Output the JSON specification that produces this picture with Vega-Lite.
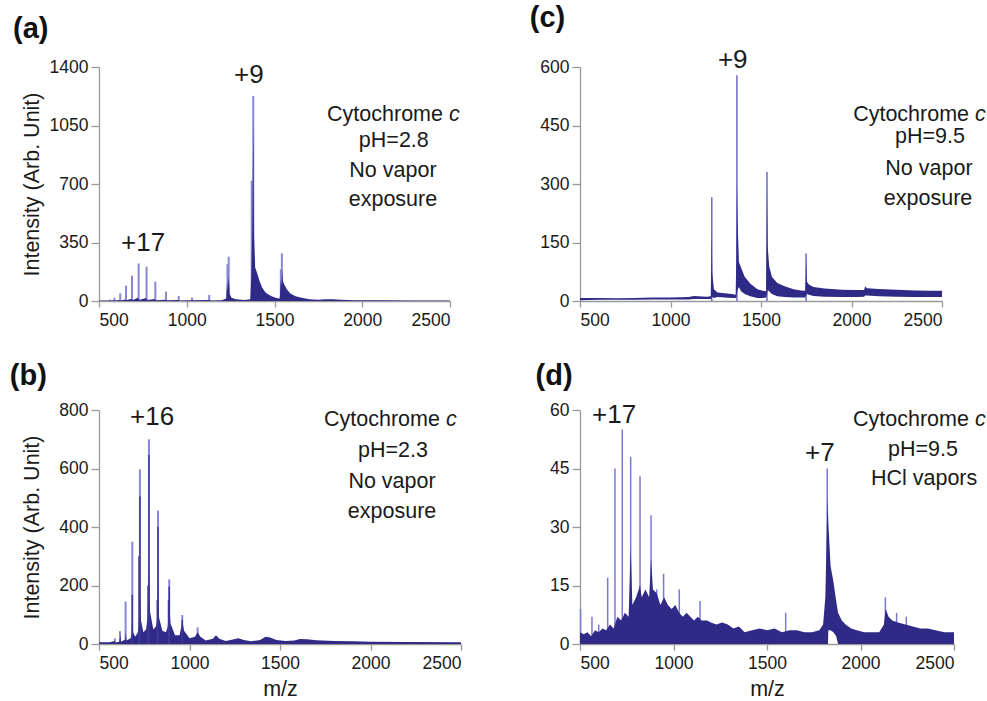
{
  "$schema": "https://vega.github.io/schema/vega-lite/v6.json",
  "background": "white",
  "padding": {"left": 9, "top": 3, "right": 0, "bottom": 0},
  "bounds": "flush",
  "columns": 2,
  "spacing": {"row": 109, "column": 119},
  "config": {
    "font": "Liberation Sans",
    "view": {"stroke": null},
    "axis": {"domainColor": "#9a9a9a", "tickColor": "#9a9a9a", "domainWidth": 1.3, "tickWidth": 1.3, "labelFontSize": 17.5, "labelColor": "#1a1a1a", "titleFontSize": 21.5, "titleFontWeight": "normal", "titleColor": "#1a1a1a", "grid": false, "labelFont": "Liberation Sans", "titleFont": "Liberation Sans", "format": "d"},
    "axisX": {"tickSize": 6, "labelPadding": 4, "titlePadding": 7},
    "axisY": {"tickSize": 8, "labelPadding": 3, "titlePadding": 6},
    "title": {"font": "Liberation Sans", "fontSize": 29, "fontWeight": "bold", "color": "#111111", "anchor": "start", "frame": "bounds"},
    "text": {"font": "Liberation Sans", "fontSize": 21.5, "color": "#1a1a1a"}
  },
  "datasets": {
    "aSpk": [{"mz":563,"i":8},{"mz":588,"i":20},{"mz":621,"i":46},{"mz":654,"i":92},{"mz":688,"i":152},{"mz":726,"i":225},{"mz":771,"i":205},{"mz":821,"i":116},{"mz":882,"i":56},{"mz":954,"i":30},{"mz":1030,"i":20},{"mz":1128,"i":36},{"mz":1232,"i":220},{"mz":1239,"i":265},{"mz":1370,"i":720},{"mz":1379,"i":1227},{"mz":1536,"i":190},{"mz":1542,"i":285}],
    "aEnv": [{"mz":500,"i":3},{"mz":560,"i":3},{"mz":585,"i":5},{"mz":590,"i":3},{"mz":618,"i":6},{"mz":623,"i":3},{"mz":650,"i":9},{"mz":656,"i":4},{"mz":685,"i":14},{"mz":690,"i":5},{"mz":722,"i":20},{"mz":729,"i":6},{"mz":768,"i":18},{"mz":774,"i":6},{"mz":818,"i":12},{"mz":824,"i":5},{"mz":878,"i":8},{"mz":886,"i":4},{"mz":950,"i":6},{"mz":958,"i":3},{"mz":1025,"i":4},{"mz":1128,"i":6},{"mz":1140,"i":3},{"mz":1200,"i":4},{"mz":1225,"i":15},{"mz":1230,"i":120},{"mz":1234,"i":60},{"mz":1239,"i":150},{"mz":1245,"i":40},{"mz":1255,"i":20},{"mz":1280,"i":10},{"mz":1330,"i":6},{"mz":1362,"i":10},{"mz":1368,"i":150},{"mz":1373,"i":400},{"mz":1379,"i":1063},{"mz":1383,"i":400},{"mz":1390,"i":200},{"mz":1400,"i":170},{"mz":1415,"i":120},{"mz":1430,"i":80},{"mz":1450,"i":50},{"mz":1480,"i":30},{"mz":1510,"i":18},{"mz":1530,"i":15},{"mz":1536,"i":130},{"mz":1540,"i":90},{"mz":1543,"i":190},{"mz":1548,"i":120},{"mz":1555,"i":100},{"mz":1570,"i":70},{"mz":1590,"i":45},{"mz":1620,"i":28},{"mz":1660,"i":18},{"mz":1700,"i":10},{"mz":1750,"i":8},{"mz":1790,"i":11},{"mz":1830,"i":10},{"mz":1880,"i":7},{"mz":1950,"i":5},{"mz":2100,"i":4},{"mz":2300,"i":3},{"mz":2500,"i":3}],
    "aTxt": [{"k":"big","t":"+9","mz":1354,"i":1352},{"k":"big","t":"+17","mz":751,"i":347},{"k":"cyto","t":"Cytochrome","mz":2477,"i":1113},{"k":"ital","t":"c","mz":2477,"i":1113},{"k":"cond","t":"pH=2.8","mz":2180,"i":957},{"k":"cond","t":"No vapor","mz":2175,"i":778},{"k":"cond","t":"exposure","mz":2175,"i":604}],
    "cSpk": [{"mz":1228,"i":266},{"mz":1367,"i":579},{"mz":1533,"i":331},{"mz":1749,"i":122}],
    "cEnv": [{"mz":500,"i":8,"lo":2},{"mz":600,"i":8,"lo":3},{"mz":700,"i":7,"lo":3},{"mz":800,"i":8,"lo":3},{"mz":900,"i":9,"lo":4},{"mz":1000,"i":9,"lo":4},{"mz":1100,"i":10,"lo":4},{"mz":1130,"i":13,"lo":5},{"mz":1200,"i":11,"lo":5},{"mz":1222,"i":12,"lo":5},{"mz":1226,"i":100,"lo":8},{"mz":1228,"i":170,"lo":10},{"mz":1231,"i":70,"lo":10},{"mz":1240,"i":30,"lo":8},{"mz":1260,"i":22,"lo":10},{"mz":1300,"i":20,"lo":9},{"mz":1340,"i":18,"lo":8},{"mz":1360,"i":16,"lo":8},{"mz":1364,"i":120,"lo":10},{"mz":1367,"i":302,"lo":20},{"mz":1371,"i":200,"lo":30},{"mz":1378,"i":100,"lo":35},{"mz":1390,"i":85,"lo":25},{"mz":1410,"i":62,"lo":18},{"mz":1440,"i":45,"lo":12},{"mz":1480,"i":30,"lo":8},{"mz":1510,"i":26,"lo":8},{"mz":1528,"i":25,"lo":9},{"mz":1531,"i":150,"lo":12},{"mz":1533,"i":289,"lo":20},{"mz":1537,"i":140,"lo":28},{"mz":1545,"i":90,"lo":25},{"mz":1560,"i":62,"lo":18},{"mz":1590,"i":46,"lo":12},{"mz":1630,"i":38,"lo":10},{"mz":1680,"i":30,"lo":9},{"mz":1720,"i":27,"lo":9},{"mz":1744,"i":26,"lo":9},{"mz":1747,"i":60,"lo":12},{"mz":1749,"i":110,"lo":14},{"mz":1753,"i":50,"lo":18},{"mz":1765,"i":42,"lo":16},{"mz":1790,"i":36,"lo":13},{"mz":1850,"i":32,"lo":11},{"mz":1950,"i":29,"lo":10},{"mz":2030,"i":28,"lo":10},{"mz":2070,"i":28,"lo":11},{"mz":2075,"i":38,"lo":14},{"mz":2085,"i":33,"lo":14},{"mz":2150,"i":31,"lo":12},{"mz":2250,"i":29,"lo":11},{"mz":2350,"i":27,"lo":10},{"mz":2450,"i":26,"lo":10},{"mz":2500,"i":26,"lo":10}],
    "cTxt": [{"k":"big","t":"+9","mz":1344,"i":618},{"k":"cyto","t":"Cytochrome","mz":2666,"i":477},{"k":"ital","t":"c","mz":2666,"i":477},{"k":"cond","t":"pH=9.5","mz":2434,"i":420},{"k":"cond","t":"No vapor","mz":2428,"i":338},{"k":"cond","t":"exposure","mz":2423,"i":262}],
    "bSpk": [{"mz":588,"i":19},{"mz":616,"i":44},{"mz":647,"i":145},{"mz":684,"i":350},{"mz":726,"i":597},{"mz":776,"i":700},{"mz":826,"i":456},{"mz":888,"i":221},{"mz":960,"i":99},{"mz":1045,"i":57}],
    "bCore": [{"mz":684,"i":168},{"mz":721,"i":300},{"mz":726,"i":504},{"mz":771,"i":200},{"mz":776,"i":646},{"mz":822,"i":150},{"mz":826,"i":401},{"mz":884,"i":150},{"mz":888,"i":196},{"mz":960,"i":82}],
    "bEnv": [{"mz":500,"i":6},{"mz":560,"i":6},{"mz":585,"i":10},{"mz":590,"i":5},{"mz":612,"i":8},{"mz":618,"i":30},{"mz":622,"i":8},{"mz":645,"i":15},{"mz":648,"i":40},{"mz":652,"i":12},{"mz":675,"i":20},{"mz":680,"i":35},{"mz":684,"i":120},{"mz":688,"i":40},{"mz":700,"i":25},{"mz":715,"i":40},{"mz":720,"i":70},{"mz":726,"i":200},{"mz":732,"i":80},{"mz":745,"i":40},{"mz":760,"i":50},{"mz":768,"i":90},{"mz":776,"i":260},{"mz":782,"i":110},{"mz":800,"i":50},{"mz":815,"i":60},{"mz":820,"i":80},{"mz":826,"i":200},{"mz":832,"i":90},{"mz":850,"i":45},{"mz":870,"i":40},{"mz":880,"i":60},{"mz":888,"i":150},{"mz":895,"i":70},{"mz":920,"i":30},{"mz":945,"i":30},{"mz":955,"i":60},{"mz":960,"i":82},{"mz":970,"i":45},{"mz":1000,"i":20},{"mz":1030,"i":25},{"mz":1045,"i":40},{"mz":1060,"i":25},{"mz":1090,"i":12},{"mz":1130,"i":18},{"mz":1146,"i":30},{"mz":1165,"i":18},{"mz":1200,"i":10},{"mz":1240,"i":15},{"mz":1270,"i":20},{"mz":1300,"i":14},{"mz":1340,"i":9},{"mz":1390,"i":14},{"mz":1420,"i":25},{"mz":1445,"i":22},{"mz":1480,"i":14},{"mz":1530,"i":10},{"mz":1580,"i":12},{"mz":1610,"i":17},{"mz":1650,"i":16},{"mz":1700,"i":13},{"mz":1800,"i":10},{"mz":1900,"i":9},{"mz":2000,"i":8},{"mz":2200,"i":7},{"mz":2500,"i":6}],
    "bTxt": [{"k":"big","t":"+16","mz":793,"i":776},{"k":"cyto","t":"Cytochrome","mz":2400,"i":766},{"k":"ital","t":"c","mz":2400,"i":766},{"k":"cond","t":"pH=2.3","mz":2124,"i":660},{"k":"cond","t":"No vapor","mz":2119,"i":554},{"k":"cond","t":"exposure","mz":2119,"i":451}],
    "dSpk": [{"mz":503,"i":9},{"mz":564,"i":7},{"mz":600,"i":5},{"mz":648,"i":17},{"mz":687,"i":45},{"mz":726,"i":55},{"mz":771,"i":48},{"mz":821,"i":43},{"mz":880,"i":33},{"mz":910,"i":14},{"mz":947,"i":18},{"mz":1031,"i":14},{"mz":1142,"i":11},{"mz":1600,"i":8},{"mz":1822,"i":45},{"mz":2133,"i":12},{"mz":2193,"i":8},{"mz":2245,"i":7}],
    "dEnv": [{"mz":500,"i":3,"lo":0},{"mz":520,"i":2.5,"lo":0},{"mz":540,"i":3,"lo":0},{"mz":560,"i":2,"lo":0},{"mz":580,"i":3.5,"lo":0},{"mz":600,"i":3,"lo":0},{"mz":620,"i":4,"lo":0},{"mz":640,"i":3.5,"lo":0},{"mz":660,"i":5,"lo":0},{"mz":680,"i":4,"lo":0},{"mz":700,"i":7,"lo":0},{"mz":720,"i":6,"lo":0},{"mz":740,"i":8,"lo":0},{"mz":760,"i":7,"lo":0},{"mz":771,"i":25,"lo":0},{"mz":780,"i":10,"lo":0},{"mz":800,"i":12,"lo":0},{"mz":821,"i":15,"lo":0},{"mz":830,"i":12,"lo":0},{"mz":850,"i":14,"lo":0},{"mz":870,"i":12,"lo":0},{"mz":880,"i":22,"lo":0},{"mz":890,"i":14,"lo":0},{"mz":910,"i":13,"lo":0},{"mz":930,"i":10,"lo":0},{"mz":950,"i":12,"lo":0},{"mz":970,"i":10,"lo":0},{"mz":990,"i":9,"lo":0},{"mz":1010,"i":10,"lo":0},{"mz":1030,"i":8,"lo":0},{"mz":1050,"i":7,"lo":0},{"mz":1070,"i":8,"lo":0},{"mz":1090,"i":7,"lo":0},{"mz":1110,"i":6,"lo":0},{"mz":1130,"i":7,"lo":0},{"mz":1150,"i":6,"lo":0},{"mz":1180,"i":6,"lo":0},{"mz":1200,"i":5.5,"lo":0},{"mz":1230,"i":5,"lo":0},{"mz":1260,"i":5.5,"lo":0},{"mz":1290,"i":5,"lo":0},{"mz":1320,"i":4,"lo":0},{"mz":1350,"i":4.5,"lo":0},{"mz":1380,"i":3,"lo":0},{"mz":1420,"i":3.5,"lo":0},{"mz":1460,"i":4,"lo":0},{"mz":1500,"i":3.5,"lo":0},{"mz":1540,"i":4,"lo":0},{"mz":1580,"i":3,"lo":0},{"mz":1620,"i":3.5,"lo":0},{"mz":1660,"i":3.5,"lo":0},{"mz":1700,"i":3,"lo":0},{"mz":1740,"i":3,"lo":0},{"mz":1780,"i":3.5,"lo":0},{"mz":1800,"i":5,"lo":0},{"mz":1812,"i":12,"lo":0},{"mz":1820,"i":30,"lo":0},{"mz":1824,"i":38,"lo":0},{"mz":1826,"i":34,"lo":0},{"mz":1828,"i":31,"lo":3.5},{"mz":1840,"i":20,"lo":3.5},{"mz":1855,"i":16,"lo":3},{"mz":1870,"i":11,"lo":2},{"mz":1880,"i":8,"lo":0},{"mz":1900,"i":6,"lo":0},{"mz":1920,"i":5,"lo":0},{"mz":1950,"i":4,"lo":0},{"mz":1980,"i":3.5,"lo":0},{"mz":2020,"i":3,"lo":0},{"mz":2060,"i":3,"lo":0},{"mz":2100,"i":3,"lo":0},{"mz":2125,"i":5,"lo":0},{"mz":2135,"i":9,"lo":0},{"mz":2150,"i":7,"lo":0},{"mz":2170,"i":6,"lo":0},{"mz":2200,"i":5.5,"lo":0},{"mz":2240,"i":5,"lo":0},{"mz":2280,"i":4.5,"lo":0},{"mz":2320,"i":4,"lo":0},{"mz":2360,"i":4,"lo":0},{"mz":2400,"i":3.5,"lo":0},{"mz":2450,"i":3,"lo":0},{"mz":2500,"i":3,"lo":0}],
    "dTxt": [{"k":"big","t":"+17","mz":682,"i":58.7},{"k":"big","t":"+7","mz":1783,"i":49},{"k":"cyto","t":"Cytochrome","mz":2596,"i":57.4},{"k":"ital","t":"c","mz":2596,"i":57.4},{"k":"cond","t":"pH=9.5","mz":2334,"i":49.7},{"k":"cond","t":"HCl vapors","mz":2340,"i":42.3}]
  },
  "concat": [
    {
      "width": 351, "height": 234,
      "title": {"text": "(a)", "dx": -8, "offset": 14},
      "encoding": {
        "x": {"field": "mz", "type": "quantitative", "scale": {"domain": [500, 2500], "nice": false, "zero": false}, "axis": {"title": null, "values": [500, 1000, 1500, 2000, 2500], "labelFlush": true}},
        "y": {"field": "i", "type": "quantitative", "scale": {"domain": [0, 1400], "nice": false}, "axis": {"title": "Intensity (Arb. Unit)", "values": [0, 350, 700, 1050, 1400]}}
      },
      "layer": [
        {"data": {"name": "aSpk"}, "mark": {"type": "rule", "color": "#8a86d6", "strokeWidth": 2}, "encoding": {"y2": {"datum": 0}}},
        {"data": {"name": "aEnv"}, "mark": {"type": "area", "color": "#2f2a86"}, "encoding": {}},
        {"data": {"name": "aTxt"}, "transform": [{"filter": "datum.k == 'big'"}], "mark": {"type": "text", "fontSize": 26}, "encoding": {"text": {"field": "t"}}},
        {"data": {"name": "aTxt"}, "transform": [{"filter": "datum.k == 'cond'"}], "mark": {"type": "text"}, "encoding": {"text": {"field": "t"}}},
        {"data": {"name": "aTxt"}, "transform": [{"filter": "datum.k == 'cyto'"}], "mark": {"type": "text", "align": "right", "dx": -3}, "encoding": {"text": {"field": "t"}}},
        {"data": {"name": "aTxt"}, "transform": [{"filter": "datum.k == 'ital'"}], "mark": {"type": "text", "align": "left", "dx": 3, "fontStyle": "italic"}, "encoding": {"text": {"field": "t"}}}
      ]
    },
    {
      "width": 362, "height": 234,
      "title": {"text": "(c)", "dx": -10, "offset": 14},
      "encoding": {
        "x": {"field": "mz", "type": "quantitative", "scale": {"domain": [500, 2500], "nice": false, "zero": false}, "axis": {"title": null, "values": [500, 1000, 1500, 2000, 2500], "labelFlush": true}},
        "y": {"field": "i", "type": "quantitative", "scale": {"domain": [0, 600], "nice": false}, "axis": {"title": null, "values": [0, 150, 300, 450, 600]}}
      },
      "layer": [
        {"data": {"name": "cSpk"}, "mark": {"type": "rule", "color": "#6e69c8", "strokeWidth": 1.5}, "encoding": {"y2": {"datum": 0}}},
        {"data": {"name": "cEnv"}, "mark": {"type": "area", "color": "#2f2a86"}, "encoding": {"y2": {"field": "lo"}}},
        {"data": {"name": "cTxt"}, "transform": [{"filter": "datum.k == 'big'"}], "mark": {"type": "text", "fontSize": 26}, "encoding": {"text": {"field": "t"}}},
        {"data": {"name": "cTxt"}, "transform": [{"filter": "datum.k == 'cond'"}], "mark": {"type": "text"}, "encoding": {"text": {"field": "t"}}},
        {"data": {"name": "cTxt"}, "transform": [{"filter": "datum.k == 'cyto'"}], "mark": {"type": "text", "align": "right", "dx": -3}, "encoding": {"text": {"field": "t"}}},
        {"data": {"name": "cTxt"}, "transform": [{"filter": "datum.k == 'ital'"}], "mark": {"type": "text", "align": "left", "dx": 3, "fontStyle": "italic"}, "encoding": {"text": {"field": "t"}}}
      ]
    },
    {
      "width": 362, "height": 234,
      "title": {"text": "(b)", "dx": -12, "offset": 10},
      "encoding": {
        "x": {"field": "mz", "type": "quantitative", "scale": {"domain": [500, 2500], "nice": false, "zero": false}, "axis": {"title": "m/z", "values": [500, 1000, 1500, 2000, 2500]}},
        "y": {"field": "i", "type": "quantitative", "scale": {"domain": [0, 800], "nice": false}, "axis": {"title": "Intensity (Arb. Unit)", "values": [0, 200, 400, 600, 800], "titlePadding": 15}}
      },
      "layer": [
        {"data": {"name": "bSpk"}, "mark": {"type": "rule", "color": "#8a86d6", "strokeWidth": 2}, "encoding": {"y2": {"datum": 0}}},
        {"data": {"name": "bEnv"}, "mark": {"type": "area", "color": "#2f2a86"}, "encoding": {}},
        {"data": {"name": "bCore"}, "mark": {"type": "rule", "color": "#3d3896", "strokeWidth": 1.5}, "encoding": {"y2": {"datum": 0}}},
        {"data": {"name": "bTxt"}, "transform": [{"filter": "datum.k == 'big'"}], "mark": {"type": "text", "fontSize": 26}, "encoding": {"text": {"field": "t"}}},
        {"data": {"name": "bTxt"}, "transform": [{"filter": "datum.k == 'cond'"}], "mark": {"type": "text"}, "encoding": {"text": {"field": "t"}}},
        {"data": {"name": "bTxt"}, "transform": [{"filter": "datum.k == 'cyto'"}], "mark": {"type": "text", "align": "right", "dx": -3}, "encoding": {"text": {"field": "t"}}},
        {"data": {"name": "bTxt"}, "transform": [{"filter": "datum.k == 'ital'"}], "mark": {"type": "text", "align": "left", "dx": 3, "fontStyle": "italic"}, "encoding": {"text": {"field": "t"}}}
      ]
    },
    {
      "width": 374, "height": 234,
      "title": {"text": "(d)", "dx": -14, "offset": 10},
      "encoding": {
        "x": {"field": "mz", "type": "quantitative", "scale": {"domain": [500, 2500], "nice": false, "zero": false}, "axis": {"title": "m/z", "values": [500, 1000, 1500, 2000, 2500]}},
        "y": {"field": "i", "type": "quantitative", "scale": {"domain": [0, 60], "nice": false}, "axis": {"title": null, "values": [0, 15, 30, 45, 60]}}
      },
      "layer": [
        {"data": {"name": "dSpk"}, "mark": {"type": "rule", "color": "#7c78d0", "strokeWidth": 1.5}, "encoding": {"y2": {"datum": 0}}},
        {"data": {"name": "dEnv"}, "mark": {"type": "area", "color": "#2f2a86"}, "encoding": {"y2": {"field": "lo"}}},
        {"data": {"name": "dTxt"}, "transform": [{"filter": "datum.k == 'big'"}], "mark": {"type": "text", "fontSize": 26}, "encoding": {"text": {"field": "t"}}},
        {"data": {"name": "dTxt"}, "transform": [{"filter": "datum.k == 'cond'"}], "mark": {"type": "text"}, "encoding": {"text": {"field": "t"}}},
        {"data": {"name": "dTxt"}, "transform": [{"filter": "datum.k == 'cyto'"}], "mark": {"type": "text", "align": "right", "dx": -3}, "encoding": {"text": {"field": "t"}}},
        {"data": {"name": "dTxt"}, "transform": [{"filter": "datum.k == 'ital'"}], "mark": {"type": "text", "align": "left", "dx": 3, "fontStyle": "italic"}, "encoding": {"text": {"field": "t"}}}
      ]
    }
  ]
}
